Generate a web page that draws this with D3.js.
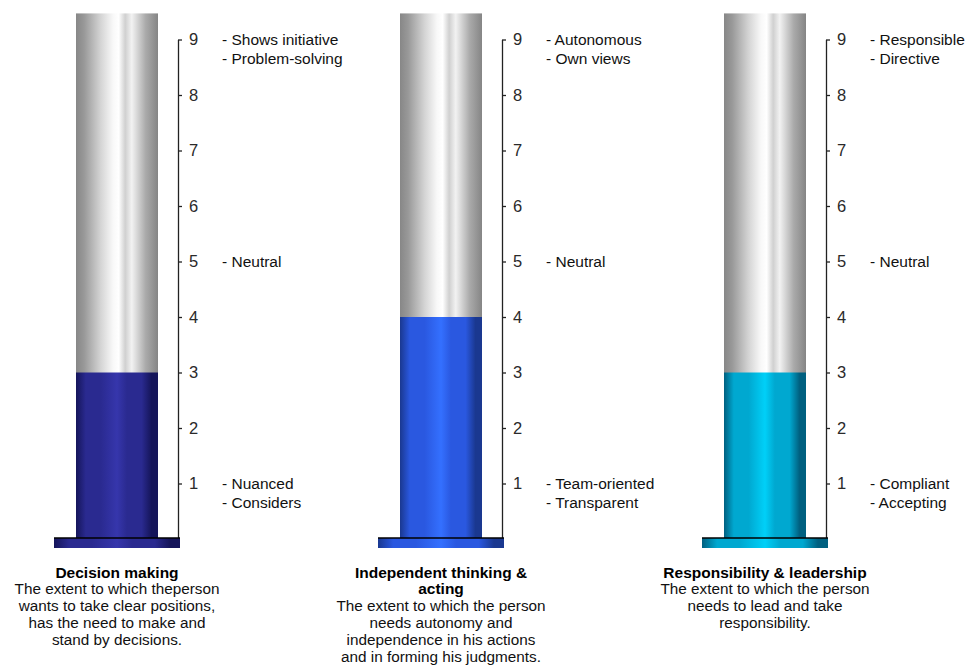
<!DOCTYPE html>
<html><head><meta charset="utf-8">
<script src="https://cdn.jsdelivr.net/npm/d3@7"></script>
<style>
html,body{margin:0;padding:0;background:#fff;}
svg{display:block;font-family:"Liberation Sans",Arial,sans-serif;}
</style></head>
<body>
<svg id="chart" width="969" height="672"></svg>
<script>
// ---- data ----
const categories = ["Decision making", "Independent thinking & acting", "Responsibility & leadership"];
const values = [3, 4, 3];
const titleLines = [
  ["Decision making"],
  ["Independent thinking &", "acting"],
  ["Responsibility & leadership"]
];
const descLines = [
  ["The extent to which theperson", "wants to take clear positions,", "has the need to make and", "stand by decisions."],
  ["The extent to which the person", "needs autonomy and", "independence in his actions", "and in forming his judgments."],
  ["The extent to which the person", "needs to lead and take", "responsibility."]
];
const highLabels = [
  ["- Shows initiative", "- Problem-solving"],
  ["- Autonomous", "- Own views"],
  ["- Responsible", "- Directive"]
];
const midLabels = [["- Neutral"], ["- Neutral"], ["- Neutral"]];
const lowLabels = [
  ["- Nuanced", "- Considers"],
  ["- Team-oriented", "- Transparent"],
  ["- Compliant", "- Accepting"]
];
const tickValues = [1, 2, 3, 4, 5, 6, 7, 8, 9];
const labelValues = [9, 5, 1];
const tubeMax = 9.47;
const fillColors = [
  {edge: "#15155a", mid: "#2a2a90", center: "#3636ac"},
  {edge: "#1a3890", mid: "#2a58e0", center: "#3470ff"},
  {edge: "#006080", mid: "#00a8d0", center: "#00d0f8"}
];

// ---- layout ----
const svg = d3.select("#chart");
const y = d3.scaleLinear().domain([0, 9]).range([539, 39.5]);
const colX = d3.scaleBand().domain(categories).range([54, 54 + 324 * 3]).paddingInner(0).paddingOuter(0);
const baseW = 126, baseH = 10, tubeOff = 22, tubeW = 82, axisOff = 124;

const defs = svg.append("defs");
const gray = defs.append("linearGradient").attr("id", "gray").attr("x1", "0").attr("x2", "1").attr("y1", "0").attr("y2", "0");
[[0, "#878787"], [0.1, "#999999"], [0.3, "#d4d4d4"], [0.45, "#f8f8f8"], [0.52, "#ffffff"], [0.6, "#d0d0d0"], [0.68, "#f2f2f2"], [0.85, "#aaaaaa"], [1, "#858585"]]
  .forEach(([o, c]) => gray.append("stop").attr("offset", o).attr("stop-color", c));
fillColors.forEach((fc, i) => {
  const g = defs.append("linearGradient").attr("id", "fill" + i).attr("x1", "0").attr("x2", "1").attr("y1", "0").attr("y2", "0");
  [[0, fc.edge], [0.12, fc.mid], [0.3, fc.mid], [0.5, fc.center], [0.62, fc.mid], [0.8, fc.mid], [0.92, fc.edge], [1, fc.edge]]
    .forEach(([o, c]) => g.append("stop").attr("offset", o).attr("stop-color", c));
});

categories.forEach((cat, i) => {
  const x0 = colX(cat);
  const g = svg.append("g");
  // tube (empty part)
  g.append("rect").attr("x", x0 + tubeOff).attr("y", y(tubeMax)).attr("width", tubeW)
    .attr("height", y(0) - y(tubeMax)).attr("fill", "url(#gray)");
  // filled part
  g.append("rect").attr("x", x0 + tubeOff).attr("y", y(values[i])).attr("width", tubeW)
    .attr("height", y(0) - y(values[i])).attr("fill", "url(#fill" + i + ")");
  // axis
  const ax = g.append("g").attr("transform", `translate(${x0 + axisOff},0)`)
    .call(d3.axisRight(y).tickValues(tickValues).tickSize(4).tickSizeOuter(0).tickPadding(7).tickFormat(d3.format("d")));
  ax.select(".domain").attr("stroke", "#222").attr("stroke-width", 1.3);
  ax.selectAll(".tick line").attr("stroke", "#222").attr("stroke-width", 1.3);
  ax.selectAll(".tick text").attr("font-size", 16.5).attr("fill", "#2a2a2a").attr("font-family", "'Liberation Sans',Arial,sans-serif");
  // base
  g.append("rect").attr("x", x0).attr("y", y(0) - 1).attr("width", baseW).attr("height", baseH)
    .attr("fill", "url(#fill" + i + ")");
  g.append("line").attr("x1", x0).attr("x2", x0 + baseW).attr("y1", y(0) - 1).attr("y2", y(0) - 1)
    .attr("stroke", "#000").attr("stroke-width", 1.5);
  // scale labels
  [highLabels[i], midLabels[i], lowLabels[i]].forEach((lines, k) => {
    const t = g.append("text").attr("x", x0 + axisOff + 44).attr("y", y(labelValues[k]) + 5.5)
      .attr("font-size", 15.5).attr("fill", "#111");
    lines.forEach((s, j) => t.append("tspan").attr("x", x0 + axisOff + 44).attr("dy", j === 0 ? 0 : 18.5).text(s));
  });
  // bottom text
  const cx = x0 + baseW / 2;
  let ly = 577.5;
  titleLines[i].forEach(s => {
    g.append("text").attr("x", cx).attr("y", ly).attr("text-anchor", "middle").attr("font-size", 15.5)
      .attr("font-weight", "bold").attr("fill", "#000").text(s);
    ly += 16.9;
  });
  descLines[i].forEach(s => {
    g.append("text").attr("x", cx).attr("y", ly).attr("text-anchor", "middle").attr("font-size", 15.3)
      .attr("fill", "#111").text(s);
    ly += 16.9;
  });
});
</script>
</body></html>
